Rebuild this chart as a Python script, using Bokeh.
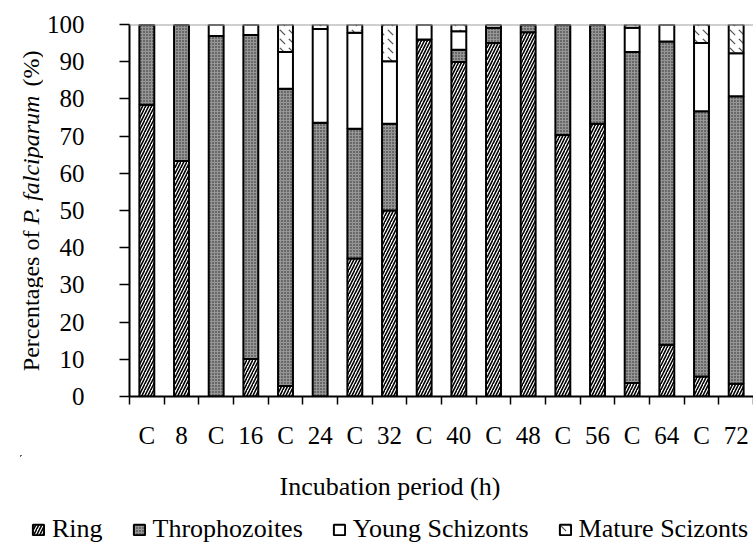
import math
from bokeh.plotting import figure
from bokeh.layouts import row, column
from bokeh.models import ColumnDataSource, FixedTicker, Legend, LegendItem, Span, Range1d
from bokeh.core.properties import value
from bokeh.embed import file_html
from bokeh.resources import INLINE

categories = ["C", "8", "C", "16", "C", "24", "C", "32", "C", "40",
              "C", "48", "C", "56", "C", "64", "C", "72"]
ring = [78.4, 63.3, 0.0, 10.1, 2.8, 0.0, 37.1, 50.0, 96.0, 89.9,
        95.0, 97.9, 70.3, 73.3, 3.6, 13.9, 5.4, 3.4]
thro = [21.6, 36.7, 96.9, 87.1, 79.9, 73.6, 34.9, 23.3, 0.0, 3.3,
        4.1, 2.1, 29.7, 26.7, 89.0, 81.5, 71.3, 77.3]
young = [0.0, 0.0, 3.1, 2.8, 9.9, 25.2, 25.8, 16.8, 4.0, 5.0,
         0.9, 0.0, 0.0, 0.0, 6.5, 4.6, 18.3, 11.6]
mature = [0.0, 0.0, 0.0, 0.0, 7.4, 1.2, 2.2, 9.9, 0.0, 1.8,
          0.0, 0.0, 0.0, 0.0, 0.9, 0.0, 5.0, 7.7]
series_names = ["Ring", "Throphozoites", "Young Schizonts", "Mature Scizonts"]
y_ticks = list(range(0, 101, 10))
x_title = "Incubation period (h)"
y_title_parts = ["Percentages of", "P. falciparum", "(%)"]

FONT = "Liberation Serif"
TICK_FS = "25px"
TITLE_FS = "26px"

W, H = 753, 545
LEFT_W = 43
TOP_H = 455
FRAME_TOP, FRAME_BOTTOM = 24, 396
PAD_W = 20

xs = [i + 0.5 for i in range(len(categories))]
src = ColumnDataSource(dict(x=xs, ring=ring, thro=thro, young=young, mature=mature))

styles = [
    dict(fill_color="white", hatch_pattern="/", hatch_color="black", hatch_scale=6, hatch_weight=1.6),
    dict(fill_color="#969696", hatch_pattern=".", hatch_color="#222222", hatch_scale=3, hatch_weight=0.8),
    dict(fill_color="white"),
    dict(fill_color="white", hatch_pattern="`", hatch_color="#555555", hatch_scale=9, hatch_weight=1.2),
]
keys = ["ring", "thro", "young", "mature"]

# ---------------- main chart ----------------
p = figure(width=W - LEFT_W, height=TOP_H, x_range=(0, len(categories)), y_range=(0, 100),
           output_backend="svg", toolbar_location=None)
p.min_border_left = 128 - LEFT_W
p.min_border_right = 0
p.min_border_top = FRAME_TOP
p.min_border_bottom = TOP_H - FRAME_BOTTOM
p.outline_line_color = None
p.grid.visible = False

cum = [0.0] * len(categories)
for k, st in zip(keys, styles):
    bottoms = list(cum)
    tops = [b + v for b, v in zip(bottoms, src.data[k])]
    src.data[k + "_b"] = bottoms
    src.data[k + "_t"] = tops
    cum = tops
    p.vbar(x="x", bottom=k + "_b", top=k + "_t", width=0.43, source=src,
           line_color="black", line_width=2, **st)

p.add_layout(Span(location=100, dimension="width", line_color="#a0a0a0", line_width=2))

ya = p.yaxis[0]
ya.ticker = FixedTicker(ticks=y_ticks, minor_ticks=[])
ya.axis_line_color = "black"
ya.axis_line_width = 2
ya.major_tick_line_color = "black"
ya.major_tick_line_width = 1.5
ya.major_tick_out = 10
ya.major_tick_in = 0
ya.major_label_standoff = 35
ya.major_label_text_font = FONT
ya.major_label_text_font_size = TICK_FS
ya.major_label_text_color = "black"

xa = p.xaxis[0]
xa.ticker = FixedTicker(ticks=xs, minor_ticks=list(range(0, len(categories) + 1)))
xa.major_label_overrides = {x: c for x, c in zip(xs, categories)}
xa.axis_line_color = "black"
xa.axis_line_width = 2
xa.major_tick_out = 0
xa.major_tick_in = 0
xa.minor_tick_out = 8
xa.minor_tick_in = 0
xa.minor_tick_line_color = "black"
xa.minor_tick_line_width = 1.5
xa.major_label_standoff = 17
xa.major_label_text_font = FONT
xa.major_label_text_font_size = TICK_FS
xa.major_label_text_color = "black"

# ---------------- y title strip (frame aligned with main frame) ----------------
pl = figure(width=LEFT_W, height=TOP_H, x_range=Range1d(0, LEFT_W),
            y_range=Range1d(FRAME_BOTTOM, FRAME_TOP),
            output_backend="svg", toolbar_location=None,
            x_axis_location=None, y_axis_location=None)
pl.min_border_left = 0
pl.min_border_right = 0
pl.min_border_top = FRAME_TOP
pl.min_border_bottom = TOP_H - FRAME_BOTTOM
pl.outline_line_color = None
pl.grid.visible = False
ystarts = [370.7, 224.0, 86.0]
for txt, yy, style in zip(y_title_parts, ystarts, ["normal", "italic", "normal"]):
    pl.text(x=[30.5], y=[yy], text=[txt], angle=math.pi / 2,
            text_font=value(FONT), text_font_size=value("24px"), text_font_style=style,
            text_color="black", text_align="left", text_baseline="alphabetic")

# ---------------- bottom strip: blank pad + (x title + legend) ----------------
pad = figure(width=PAD_W, height=H - TOP_H, output_backend="svg", toolbar_location=None,
             x_axis_location=None, y_axis_location=None, min_border=0)
pad.outline_line_color = None
pad.grid.visible = False

pb = figure(width=W - PAD_W, height=H - TOP_H, x_range=Range1d(PAD_W, W), y_range=Range1d(H, TOP_H),
            output_backend="svg", toolbar_location=None,
            x_axis_location=None, y_axis_location=None, min_border=0)
pb.outline_line_color = None
pb.grid.visible = False
pb.text(x=[279], y=[486], text=[x_title], text_font=value(FONT), text_font_size=value(TITLE_FS),
        text_color="black", text_align="left", text_baseline="alphabetic")

# legend swatches: stand-in renderers whose only bar lies far outside the visible range
leg_src = ColumnDataSource(dict(x=[-5000], b=[-5000], t=[-4999]))
leg_rs = []
for st in styles:
    leg_rs.append(pb.vbar(x="x", top="t", bottom="b", width=1, source=leg_src,
                          line_color="black", line_width=2, **st))
legend = Legend(items=[LegendItem(label=n, renderers=[r]) for n, r in zip(series_names, leg_rs)],
                orientation="horizontal", location=(31 - PAD_W, 1))
legend.label_text_font = FONT
legend.label_text_font_size = TITLE_FS
legend.label_text_color = "black"
legend.label_height = 26
legend.glyph_width = 14
legend.glyph_height = 13
legend.label_standoff = 7
legend.spacing = 29
legend.padding = 0
legend.margin = 0
legend.border_line_color = None
legend.background_fill_alpha = 0
pb.add_layout(legend)

layout = column(row(pl, p, spacing=0), row(pad, pb, spacing=0), spacing=0)
open("out.html", "w").write(file_html(layout, INLINE))
